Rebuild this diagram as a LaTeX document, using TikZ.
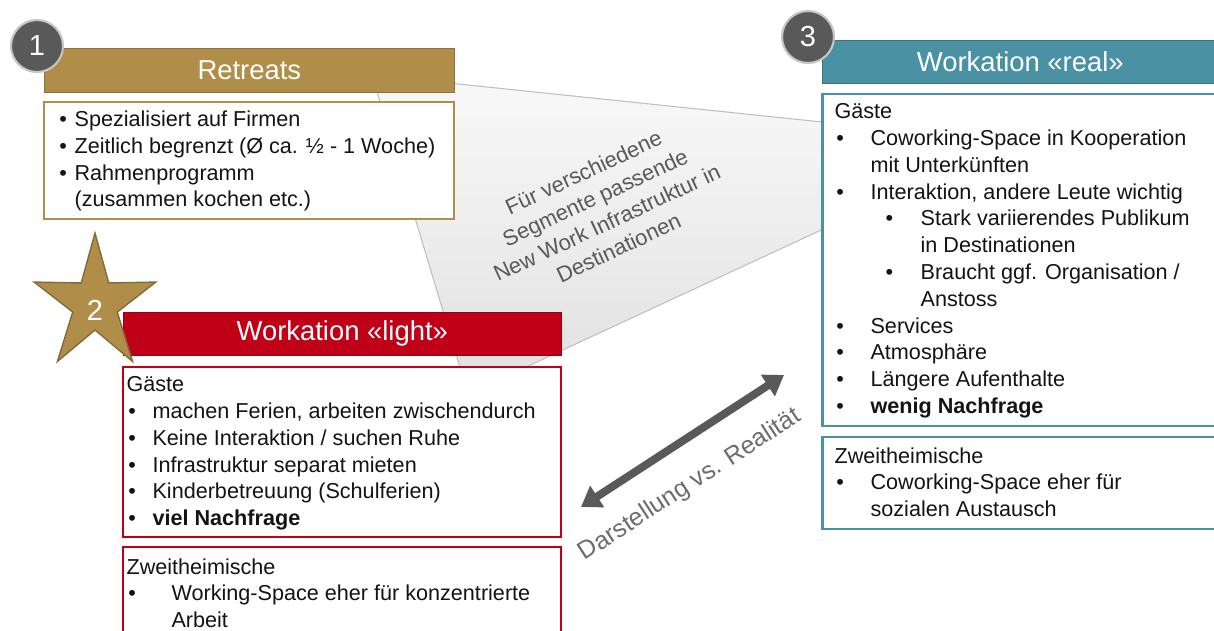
\documentclass[tikz,border=0pt]{standalone}
\usepackage{fontspec}
\setmainfont{Liberation Sans}
\usetikzlibrary{positioning,arrows.meta}

\definecolor{wgold}{RGB}{176,142,74}
\definecolor{wred}{RGB}{192,0,22}
\definecolor{wteal}{RGB}{74,145,164}
\definecolor{wdark}{RGB}{89,89,89}
\definecolor{wtext}{RGB}{20,20,20}

\newcommand\bul[2][1pt]{\makebox[#2][l]{\hspace*{#1}\textbullet}}

\tikzset{
  titlebar/.style={draw=#1!80!black, fill=#1, text=white, inner sep=0pt, anchor=north west,
    font=\fontsize{15.6}{18}\selectfont},
  bodybox/.style={draw=#1, line width=1.3pt, fill=white, inner sep=0pt},
  bodytext/.style={anchor=north west, inner sep=0pt, align=left, text=wtext,
    font=\fontsize{12.3}{15.25}\selectfont},
  numdisc/.style={circle, draw=gray!45, line width=1.2pt, fill=wdark, text=white,
    minimum size=1.04cm, inner sep=0pt, font=\fontsize{16.5}{18}\selectfont},
}

\begin{document}
\begin{tikzpicture}[x=0.02cm, y=-0.02cm]
    \useasboundingbox (0,0) rectangle (1214,630);
    \clip (0,0) rectangle (1214,630);

    % grey funnel between the three segments
    \coordinate (fa) at (372,75);
    \coordinate (fb) at (832,123);
    \coordinate (fc) at (832,225);
    \coordinate (fd) at (468,394);
    \draw[draw=gray!50, line width=0.6pt, top color=gray!5, bottom color=gray!24]
        (fa) -- (fb) -- (fc) -- (fd) -- cycle;
    \node[rotate=25, align=center, text=wdark, font=\fontsize{12.5}{15.8}\selectfont] (seg) at (601,210)
        {Für verschiedene\\Segmente passende\\New Work Infrastruktur in\\Destinationen};

    % 1: retreats
    \node[titlebar=wgold, minimum width=8.2cm, minimum height=0.88cm] (rbar) at (44,48) {Retreats};
    \node[bodybox=wgold, minimum width=8.2cm, minimum height=2.34cm, below=0.16cm of rbar] (rbody) {};
    \node[bodytext, below right=0.136cm and 0.28cm of rbody.north west] (rtext)
        {\strut\bul{9.7pt}Spezialisiert auf Firmen\\
         \bul{9.7pt}Zeitlich begrenzt (Ø ca. ½ - 1 Woche)\\
         \bul{9.7pt}Rahmenprogramm\\
         \hspace*{9.7pt}(zusammen kochen etc.)};
    \node[numdisc] (n1) at (37,46) {1};

    % 3: workation real
    \node[titlebar=wteal, minimum width=7.92cm, minimum height=0.86cm] (wbar) at (822,40) {Workation «real»};
    \node[bodybox=wteal, minimum width=7.92cm, minimum height=6.64cm, below=0.18cm of wbar] (wbody) {};
    \node[bodybox=wteal, minimum width=7.92cm, minimum height=1.84cm, below=0.18cm of wbody] (wzweit) {};
    \node[bodytext, below right=0.14cm and 0.26cm of wbody.north west] (wtext)
        {\strut Gäste\\
         \bul{20.5pt}Coworking-Space in Kooperation\\
         \hspace*{20.5pt}mit Unterkünften\\
         \bul{20.5pt}Interaktion, andere Leute wichtig\\
         \bul[29pt]{49pt}Stark variierendes Publikum\\
         \hspace*{49pt}in Destinationen\\
         \bul[29pt]{49pt}Braucht ggf. Organisation /\\
         \hspace*{49pt}Anstoss\\
         \bul{20.5pt}Services\\
         \bul{20.5pt}Atmosphäre\\
         \bul{20.5pt}Längere Aufenthalte\\
         \bul{20.5pt}\textbf{wenig Nachfrage}};
    \node[bodytext, below right=0.16cm and 0.26cm of wzweit.north west] (wztext)
        {\strut Zweitheimische\\
         \bul{20.5pt}Coworking-Space eher für\\
         \hspace*{20.5pt}sozialen Austausch};
    \node[numdisc] (n3) at (808,37) {3};

    % 2: workation light
    \node[titlebar=wred, minimum width=8.76cm, minimum height=0.86cm] (lbar) at (123,312) {Workation «light»};
    \node[bodybox=wred, minimum width=8.76cm, minimum height=3.4cm, below=0.2cm of lbar] (lbody) {};
    \node[bodybox=wred, minimum width=8.76cm, minimum height=2.2cm, below=0.16cm of lbody] (lzweit) {};
    \node[bodytext, below right=0.14cm and 0.08cm of lbody.north west] (ltext)
        {\strut Gäste\\
         \bul{14.8pt}machen Ferien, arbeiten zwischendurch\\
         \bul{14.8pt}Keine Interaktion / suchen Ruhe\\
         \bul{14.8pt}Infrastruktur separat mieten\\
         \bul{14.8pt}Kinderbetreuung (Schulferien)\\
         \bul{14.8pt}\textbf{viel Nachfrage}};
    \node[bodytext, below right=0.18cm and 0.08cm of lzweit.north west] (lztext)
        {\strut Zweitheimische\\
         \bul{25.6pt}Working-Space eher für konzentrierte\\
         \hspace*{25.6pt}Arbeit};

    % star with the 2
    \begin{scope}[shift={(95,304)}, x=0.018cm, y=0.02cm]
        \draw[fill=wgold, draw=wgold!75!black, line width=0.8pt]
            (90:71) \foreach \a in {0,72,...,288}{ -- ({\a+126}:26) -- ({\a+162}:71)} -- cycle;
    \end{scope}
    \node[text=white, font=\fontsize{16.5}{18}\selectfont] (n2) at (95,310) {2};

    % presentation vs. reality
    \coordinate (dl) at (581,507);
    \coordinate (dr) at (784,375);
    \draw[wdark, line width=4.5pt, {Triangle[length=11pt,width=14pt]}-{Triangle[length=11pt,width=14pt]}] (dl) -- (dr);
    \node[rotate=33, text=gray!85!black, font=\fontsize{14.2}{16}\selectfont] (dvr) at (690,485)
        {Darstellung vs. Realität};
\end{tikzpicture}
\end{document}
